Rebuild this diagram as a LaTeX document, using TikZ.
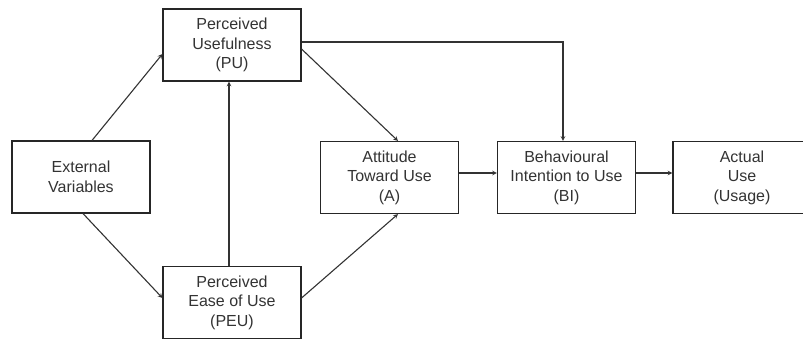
\documentclass[tikz,border=0pt]{standalone}
\usepackage{fontspec}
\setmainfont{Liberation Sans}
\usetikzlibrary{arrows,positioning}

\begin{document}
\begin{tikzpicture}[
    x=1pt,y=-1pt,
    >=stealth,
    var/.style={rectangle,draw=black!85,line width=1.1pt,inner sep=0,
      minimum width=138pt,minimum height=72pt,align=center,
      font=\fontsize{16}{19.5}\selectfont,text=black!80},
    link/.style={->,draw=black!80,line width=1.1pt}
    ]
    \useasboundingbox (0,0) rectangle (803,341);

    \node [var] (ext) at (81,177) {External\\Variables};
    \node [var] (pu) at (232,45) {Perceived\\Usefulness\\(PU)};
    \node [var] (peu) at (232,302.5) {Perceived\\Ease of Use\\(PEU)};
    \node [var] (att) at (389.5,177.5) {Attitude\\Toward Use\\(A)};
    \node [var] (bi) at (566.5,177.5) {Behavioural\\Intention to Use\\(BI)};
    \node [var] (use) at (742,177.5) {Actual\\Use\\(Usage)};

    % external variables
    \draw [link] ([xshift=11pt]ext.north) to ([yshift=-9pt]pu.west);
    \draw [link] ([xshift=2pt]ext.south) to ([yshift=4.5pt]peu.west);
    \draw [link] ([xshift=-3pt]peu.north) to ([xshift=-3pt]pu.south);

    % attitude
    \draw [link] ([yshift=-4pt]pu.east) to ([xshift=8.5pt]att.north);
    \draw [link] ([yshift=4.5pt]peu.east) to ([xshift=8.5pt]att.south);

    % intention and use
    \draw [link] ([yshift=3pt]pu.east) -| ([xshift=-3.5pt]bi.north);
    \draw [link] ([yshift=4.5pt]att.east) to ([yshift=4.5pt]bi.west);
    \draw [link] ([yshift=4.5pt]bi.east) to ([yshift=4.5pt]use.west);
  \end{tikzpicture}
\end{document}
